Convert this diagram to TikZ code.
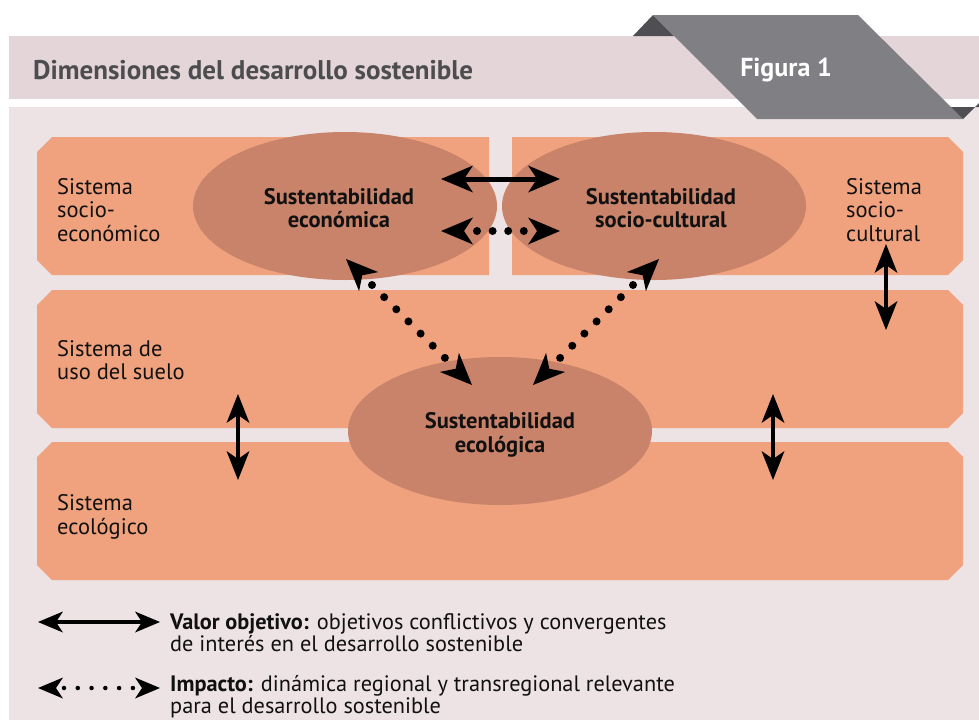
\documentclass[tikz,border=0pt]{standalone}
\usepackage{fontspec}
\setmainfont{PT Sans}
\usetikzlibrary{arrows.meta,calc,shapes.geometric}
\definecolor{bgpink}{HTML}{EDE3E4}
\definecolor{headpink}{HTML}{E3D5D8}
\definecolor{boxor}{HTML}{F0A27E}
\definecolor{ellor}{HTML}{C9836A}
\definecolor{tabgray}{HTML}{808084}
\definecolor{tabdark}{HTML}{4E4E53}
\definecolor{titlegray}{HTML}{4D4D4F}
\definecolor{ink}{HTML}{111111}
\begin{document}
\begin{tikzpicture}[x=1pt,y=-1pt,
  bigtip/.tip={Stealth[length=32pt,width=27pt,inset=9pt,line width=0pt]},
  vtip/.tip={Stealth[length=29pt,width=23pt,inset=8pt,line width=0pt]},
  legtip/.tip={Stealth[length=25pt,width=21pt,inset=7pt,line width=0pt]},
  solidarr/.style={draw=black,line width=5pt,arrows={bigtip-bigtip}},
  vertarr/.style={draw=black,line width=4.5pt,arrows={vtip-vtip}},
  legarr/.style={draw=black,line width=4pt,arrows={legtip-legtip}},
  tipsonly/.style={draw=black,line width=1pt,line cap=butt,dash pattern=on 0pt off 10000pt},
  dotrow/.style={draw=black,line width=#1,line cap=round},
  ell/.style={ellipse,fill=ellor,inner sep=0pt,minimum width=304pt,minimum height=148pt},
  boxtxt/.style={anchor=west,align=left,text=ink,font=\fontsize{22.5}{23.5}\selectfont,inner sep=0pt},
  elltxt/.style={align=center,text=ink,font=\fontsize{22.5}{23.5}\selectfont\bfseries,inner sep=0pt},
  legtxt/.style={anchor=west,align=left,text=ink,font=\fontsize{22.3}{22}\selectfont,inner sep=0pt},
  panel/.style={fill=boxor}
]
\useasboundingbox (0,0) rectangle (979,720);
\fill[white] (0,0) rectangle (979,720);
% backgrounds
\fill[headpink] (9,36) rectangle (979,99);
\fill[bgpink] (9,107) rectangle (979,720);
% tab
\fill[tabdark] (633,36) -- (653,15) -- (674,36) -- cycle;
\fill[tabdark] (941,107) -- (979,107) -- (979,103) -- (963,119) -- cycle;
\fill[tabgray] (653,15) -- (858,15) -- (963,119) -- (757,119) -- cycle;
\node[anchor=west,text=titlegray,font=\fontsize{27}{30}\selectfont\bfseries,inner sep=0pt] (title) at (33,70) {Dimensiones del desarrollo sostenible};
\node[text=white,font=\fontsize{26}{30}\selectfont\bfseries,inner sep=0pt] (fig) at (786,70) {Figura 1};
% panels
\fill[panel] (52,137) -- (489,137) -- (489,275) -- (52,275) -- (37,260) -- (37,152) -- cycle;
\fill[panel] (512,137) -- (948,137) -- (963,152) -- (963,260) -- (948,275) -- (512,275) -- cycle;
\fill[panel] (52,290) -- (948,290) -- (963,305) -- (963,413) -- (948,428) -- (52,428) -- (37,413) -- (37,305) -- cycle;
\fill[panel] (52,442) -- (948,442) -- (963,457) -- (963,565) -- (948,580) -- (52,580) -- (37,565) -- (37,457) -- cycle;
% ellipses
\node[ell] (econ) at (345,206) {};
\node[ell] (socio) at (654,206) {};
\node[ell] (eco) at (500,431) {};
\node[elltxt] (econt) at (339,208) {Sustentabilidad\\económica};
\node[elltxt] (sociot) at (661,208) {Sustentabilidad\\socio-cultural};
\node[elltxt] (ecot) at (500,435) {Sustentabilidad\\ecológica};
% system labels
\node[boxtxt] (sse) at (57,210) {Sistema\\socio-\\económico};
\node[boxtxt] (ssc) at (846,210) {Sistema\\socio-\\cultural};
\node[boxtxt] (sus) at (57,360) {Sistema de\\uso del suelo};
\node[boxtxt] (sec) at (57,517) {Sistema\\ecológico};
% coordinates
\coordinate (sA) at (441,179); \coordinate (sB) at (560,179);
\coordinate (dA) at (441,231); \coordinate (dB) at (560,231);
\coordinate (d1) at (477,231); \coordinate (d2) at (524,231);
\coordinate (lA) at (346,259); \coordinate (lB) at (472,385);
\coordinate (l1) at (372,285); \coordinate (l2) at (445,358);
\coordinate (rA) at (659,259); \coordinate (rB) at (533,385);
\coordinate (r1) at (633,285); \coordinate (r2) at (560,358);
\coordinate (v1a) at (886,244); \coordinate (v1b) at (886,330);
\coordinate (v2a) at (238,394); \coordinate (v2b) at (238,480);
\coordinate (v3a) at (773,394); \coordinate (v3b) at (773,480);
% arrows
\draw[solidarr] (sA) -- (sB);
\draw[tipsonly,arrows={bigtip-bigtip}] (dA) -- (dB);
\draw[dotrow=8pt,dash pattern=on 0pt off 15.6pt] (d1) -- (d2);
\draw[tipsonly,arrows={bigtip-bigtip}] (lA) -- (lB);
\draw[dotrow=8pt,dash pattern=on 0pt off 17.18pt] (l1) -- (l2);
\draw[tipsonly,arrows={bigtip-bigtip}] (rA) -- (rB);
\draw[dotrow=8pt,dash pattern=on 0pt off 17.18pt] (r1) -- (r2);
\draw[vertarr] (v1a) -- (v1b);
\draw[vertarr] (v2a) -- (v2b);
\draw[vertarr] (v3a) -- (v3b);
% legend
\coordinate (L1a) at (38,622); \coordinate (L1b) at (160,622);
\coordinate (L2a) at (38,688); \coordinate (L2b) at (160,688);
\coordinate (L21) at (64,688); \coordinate (L22) at (133,688);
\draw[legarr] (L1a) -- (L1b);
\draw[tipsonly,arrows={legtip-legtip}] (L2a) -- (L2b);
\draw[dotrow=4.5pt,dash pattern=on 0pt off 13.78pt] (L21) -- (L22);
\node[legtxt] (leg1) at (170,633) {\textbf{Valor objetivo:} objetivos conflictivos y convergentes\\de interés en el desarrollo sostenible};
\node[legtxt] (leg2) at (170,697) {\textbf{Impacto:} dinámica regional y transregional relevante\\para el desarrollo sostenible};
\end{tikzpicture}
\end{document}
